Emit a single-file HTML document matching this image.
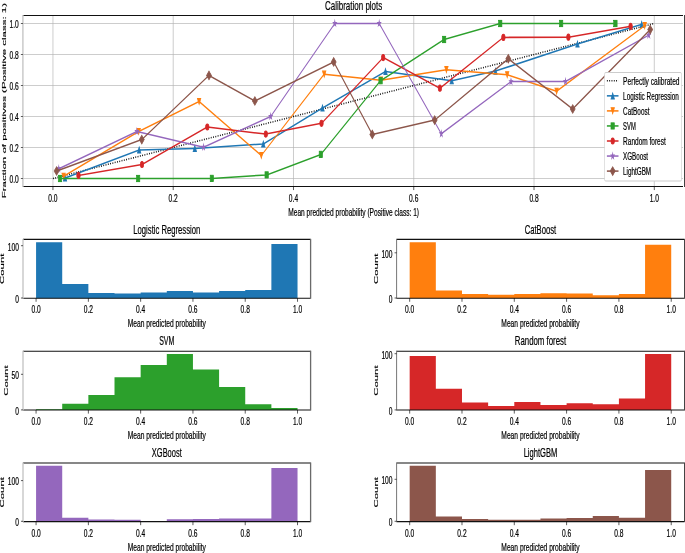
<!DOCTYPE html>
<html><head><meta charset="utf-8"><title>Calibration plots</title>
<style>
html,body{margin:0;padding:0;background:#fff;}
body{width:685px;height:553px;overflow:hidden;}
svg{display:block;filter:blur(0.35px);}
text{font-family:"Liberation Sans",sans-serif;fill:#000;stroke:#000;stroke-width:0.22px;}
</style></head>
<body>
<svg width="685" height="553" viewBox="0 0 1205.99 553" preserveAspectRatio="none">
<rect x="0" y="0" width="1205.99" height="553" fill="#fff"/>
<line x1="93.22" y1="15.5" x2="93.22" y2="186.5" stroke="#b0b0b0" stroke-width="0.82"/>
<line x1="40.32" y1="178.5" x2="1202.46" y2="178.5" stroke="#b0b0b0" stroke-width="0.82"/>
<line x1="304.96" y1="15.5" x2="304.96" y2="186.5" stroke="#b0b0b0" stroke-width="0.82"/>
<line x1="40.32" y1="147.5" x2="1202.46" y2="147.5" stroke="#b0b0b0" stroke-width="0.82"/>
<line x1="516.71" y1="15.5" x2="516.71" y2="186.5" stroke="#b0b0b0" stroke-width="0.82"/>
<line x1="40.32" y1="116.5" x2="1202.46" y2="116.5" stroke="#b0b0b0" stroke-width="0.82"/>
<line x1="728.45" y1="15.5" x2="728.45" y2="186.5" stroke="#b0b0b0" stroke-width="0.82"/>
<line x1="40.32" y1="85.5" x2="1202.46" y2="85.5" stroke="#b0b0b0" stroke-width="0.82"/>
<line x1="940.19" y1="15.5" x2="940.19" y2="186.5" stroke="#b0b0b0" stroke-width="0.82"/>
<line x1="40.32" y1="54.5" x2="1202.46" y2="54.5" stroke="#b0b0b0" stroke-width="0.82"/>
<line x1="1151.94" y1="15.5" x2="1151.94" y2="186.5" stroke="#b0b0b0" stroke-width="0.82"/>
<line x1="40.32" y1="23.5" x2="1202.46" y2="23.5" stroke="#b0b0b0" stroke-width="0.82"/>
<g>
<line x1="93.22" y1="178.5" x2="1151.94" y2="23.5" stroke="#000" stroke-width="1.54" stroke-dasharray="1.54 2.53"/>
<polyline points="114.44,178 245.07,149.9 342.96,148.4 463.56,144 567.78,107.9 678.7,71.4 795.25,80.7 872.36,71.1 1016.73,44 1129.75,24.3" fill="none" stroke="#1f77b4" stroke-width="1.54" stroke-linejoin="round" stroke-linecap="square"/>
<g fill="#1f77b4" stroke="#1f77b4" stroke-width="1.02" stroke-linejoin="miter">
<polygon points="114.44,174.93 111.36,181.07 117.51,181.07"/>
<polygon points="245.07,146.83 242,152.97 248.14,152.97"/>
<polygon points="342.96,145.33 339.89,151.47 346.03,151.47"/>
<polygon points="463.56,140.93 460.48,147.07 466.63,147.07"/>
<polygon points="567.78,104.83 564.71,110.97 570.85,110.97"/>
<polygon points="678.7,68.33 675.63,74.47 681.77,74.47"/>
<polygon points="795.25,77.63 792.17,83.77 798.32,83.77"/>
<polygon points="872.36,68.03 869.29,74.17 875.43,74.17"/>
<polygon points="1016.73,40.93 1013.65,47.07 1019.8,47.07"/>
<polygon points="1129.75,21.23 1126.68,27.37 1132.83,27.37"/>
</g>
<polyline points="111.97,176.3 244.19,131.5 350.53,101.5 460.04,155.5 570.77,74.2 670.6,80.2 785.92,69.7 892.96,74.8 979.93,91.3 1135.04,25.7" fill="none" stroke="#ff7f0e" stroke-width="1.54" stroke-linejoin="round" stroke-linecap="square"/>
<g fill="#ff7f0e" stroke="#ff7f0e" stroke-width="1.02" stroke-linejoin="miter">
<polygon points="111.97,179.37 108.9,173.23 115.04,173.23"/>
<polygon points="244.19,134.57 241.12,128.43 247.26,128.43"/>
<polygon points="350.53,104.57 347.46,98.43 353.6,98.43"/>
<polygon points="460.04,158.57 456.96,152.43 463.11,152.43"/>
<polygon points="570.77,77.27 567.7,71.13 573.85,71.13"/>
<polygon points="670.6,83.27 667.53,77.13 673.67,77.13"/>
<polygon points="785.92,72.77 782.84,66.63 788.99,66.63"/>
<polygon points="892.96,77.87 889.89,71.73 896.03,71.73"/>
<polygon points="979.93,94.37 976.86,88.23 983,88.23"/>
<polygon points="1135.04,28.77 1131.96,22.63 1138.11,22.63"/>
</g>
<polyline points="105.63,178.5 243.13,178.5 373.06,178.4 469.54,174.9 564.96,154.4 670.07,80.7 781.87,39.5 880.63,23.5 987.85,23.5 1083.45,23.5" fill="none" stroke="#2ca02c" stroke-width="1.54" stroke-linejoin="round" stroke-linecap="square"/>
<g fill="#2ca02c" stroke="#2ca02c" stroke-width="1.02" stroke-linejoin="miter">
<rect x="102.56" y="175.43" width="6.14" height="6.14"/>
<rect x="240.06" y="175.43" width="6.14" height="6.14"/>
<rect x="369.99" y="175.33" width="6.14" height="6.14"/>
<rect x="466.47" y="171.83" width="6.14" height="6.14"/>
<rect x="561.89" y="151.33" width="6.14" height="6.14"/>
<rect x="667" y="77.63" width="6.14" height="6.14"/>
<rect x="778.79" y="36.43" width="6.14" height="6.14"/>
<rect x="877.56" y="20.43" width="6.14" height="6.14"/>
<rect x="984.78" y="20.43" width="6.14" height="6.14"/>
<rect x="1080.38" y="20.43" width="6.14" height="6.14"/>
</g>
<polyline points="138.2,175.4 250,164.5 364.96,127 467.96,134.1 566.02,123.3 674.65,57.6 774.47,88.2 886.27,37.4 1000.7,37.2 1110.21,26.4" fill="none" stroke="#d62728" stroke-width="1.54" stroke-linejoin="round" stroke-linecap="square"/>
<g fill="#d62728" stroke="#d62728" stroke-width="1.02" stroke-linejoin="miter">
<circle cx="138.2" cy="175.4" r="3.07"/>
<circle cx="250" cy="164.5" r="3.07"/>
<circle cx="364.96" cy="127" r="3.07"/>
<circle cx="467.96" cy="134.1" r="3.07"/>
<circle cx="566.02" cy="123.3" r="3.07"/>
<circle cx="674.65" cy="57.6" r="3.07"/>
<circle cx="774.47" cy="88.2" r="3.07"/>
<circle cx="886.27" cy="37.4" r="3.07"/>
<circle cx="1000.7" cy="37.2" r="3.07"/>
<circle cx="1110.21" cy="26.4" r="3.07"/>
</g>
<polyline points="103.52,168.8 241.02,131.5 358.45,147.2 476.58,116.5 589.44,23.5 667.61,23.5 776.94,133.8 899.65,81.6 995.6,81.5 1142.25,35.1" fill="none" stroke="#9467bd" stroke-width="1.54" stroke-linejoin="round" stroke-linecap="square"/>
<g fill="#9467bd" stroke="#9467bd" stroke-width="1.02" stroke-linejoin="miter">
<polygon points="103.52,165.73 102.83,167.85 100.6,167.85 102.41,169.16 101.72,171.29 103.52,169.97 105.33,171.29 104.64,169.16 106.44,167.85 104.21,167.85"/>
<polygon points="241.02,128.43 240.33,130.55 238.1,130.55 239.91,131.86 239.22,133.99 241.02,132.67 242.83,133.99 242.14,131.86 243.94,130.55 241.71,130.55"/>
<polygon points="358.45,144.13 357.76,146.25 355.53,146.25 357.33,147.56 356.65,149.69 358.45,148.37 360.26,149.69 359.57,147.56 361.37,146.25 359.14,146.25"/>
<polygon points="476.58,113.43 475.89,115.55 473.66,115.55 475.47,116.86 474.78,118.99 476.58,117.67 478.39,118.99 477.7,116.86 479.51,115.55 477.27,115.55"/>
<polygon points="589.44,20.43 588.75,22.55 586.51,22.55 588.32,23.86 587.63,25.99 589.44,24.67 591.24,25.99 590.55,23.86 592.36,22.55 590.13,22.55"/>
<polygon points="667.61,20.43 666.92,22.55 664.68,22.55 666.49,23.86 665.8,25.99 667.61,24.67 669.41,25.99 668.72,23.86 670.53,22.55 668.3,22.55"/>
<polygon points="776.94,130.73 776.25,132.85 774.01,132.85 775.82,134.16 775.13,136.29 776.94,134.97 778.74,136.29 778.05,134.16 779.86,132.85 777.63,132.85"/>
<polygon points="899.65,78.53 898.96,80.65 896.73,80.65 898.53,81.96 897.84,84.09 899.65,82.77 901.45,84.09 900.76,81.96 902.57,80.65 900.34,80.65"/>
<polygon points="995.6,78.43 994.91,80.55 992.68,80.55 994.48,81.86 993.79,83.99 995.6,82.67 997.4,83.99 996.71,81.86 998.52,80.55 996.29,80.55"/>
<polygon points="1142.25,32.03 1141.56,34.15 1139.33,34.15 1141.14,35.46 1140.45,37.59 1142.25,36.27 1144.06,37.59 1143.37,35.46 1145.18,34.15 1142.94,34.15"/>
</g>
<polyline points="99.65,171 249.65,139.6 367.96,75.4 448.68,101 587.5,61.9 655.46,134.4 765.32,120.1 894.89,58.8 1008.27,109 1144.72,29.6" fill="none" stroke="#8c564b" stroke-width="1.54" stroke-linejoin="round" stroke-linecap="square"/>
<g fill="#8c564b" stroke="#8c564b" stroke-width="1.02" stroke-linejoin="miter">
<polygon points="99.65,166.66 103.99,171 99.65,175.34 95.3,171"/>
<polygon points="249.65,135.26 253.99,139.6 249.65,143.94 245.3,139.6"/>
<polygon points="367.96,71.06 372.3,75.4 367.96,79.74 363.61,75.4"/>
<polygon points="448.68,96.66 453.02,101 448.68,105.34 444.34,101"/>
<polygon points="587.5,57.56 591.84,61.9 587.5,66.24 583.16,61.9"/>
<polygon points="655.46,130.06 659.8,134.4 655.46,138.74 651.11,134.4"/>
<polygon points="765.32,115.76 769.66,120.1 765.32,124.44 760.97,120.1"/>
<polygon points="894.89,54.46 899.24,58.8 894.89,63.14 890.55,58.8"/>
<polygon points="1008.27,104.66 1012.62,109 1008.27,113.34 1003.93,109"/>
<polygon points="1144.72,25.26 1149.06,29.6 1144.72,33.94 1140.37,29.6"/>
</g>
</g>
<line x1="40.32" y1="15.5" x2="1202.46" y2="15.5" stroke="#111" stroke-width="1.15"/>
<line x1="40.32" y1="186.5" x2="1202.46" y2="186.5" stroke="#111" stroke-width="1.15"/>
<rect x="39.08" y="15" width="2.46" height="172" fill="#c6c6c6"/>
<rect x="1204.23" y="15" width="1.76" height="172" fill="#444"/>
<line x1="93.22" y1="186.5" x2="93.22" y2="190.08" stroke="#000" stroke-width="0.82"/>
<text x="93.22" y="202.2" text-anchor="middle" font-size="10.65" textLength="16.29" lengthAdjust="spacingAndGlyphs">0.0</text>
<line x1="36.73" y1="178.5" x2="40.32" y2="178.5" stroke="#000" stroke-width="0.82"/>
<text x="33.15" y="183.4" text-anchor="end" font-size="10.65" textLength="16.29" lengthAdjust="spacingAndGlyphs">0.0</text>
<line x1="304.96" y1="186.5" x2="304.96" y2="190.08" stroke="#000" stroke-width="0.82"/>
<text x="304.96" y="202.2" text-anchor="middle" font-size="10.65" textLength="16.29" lengthAdjust="spacingAndGlyphs">0.2</text>
<line x1="36.73" y1="147.5" x2="40.32" y2="147.5" stroke="#000" stroke-width="0.82"/>
<text x="33.15" y="152.4" text-anchor="end" font-size="10.65" textLength="16.29" lengthAdjust="spacingAndGlyphs">0.2</text>
<line x1="516.71" y1="186.5" x2="516.71" y2="190.08" stroke="#000" stroke-width="0.82"/>
<text x="516.71" y="202.2" text-anchor="middle" font-size="10.65" textLength="16.29" lengthAdjust="spacingAndGlyphs">0.4</text>
<line x1="36.73" y1="116.5" x2="40.32" y2="116.5" stroke="#000" stroke-width="0.82"/>
<text x="33.15" y="121.4" text-anchor="end" font-size="10.65" textLength="16.29" lengthAdjust="spacingAndGlyphs">0.4</text>
<line x1="728.45" y1="186.5" x2="728.45" y2="190.08" stroke="#000" stroke-width="0.82"/>
<text x="728.45" y="202.2" text-anchor="middle" font-size="10.65" textLength="16.29" lengthAdjust="spacingAndGlyphs">0.6</text>
<line x1="36.73" y1="85.5" x2="40.32" y2="85.5" stroke="#000" stroke-width="0.82"/>
<text x="33.15" y="90.4" text-anchor="end" font-size="10.65" textLength="16.29" lengthAdjust="spacingAndGlyphs">0.6</text>
<line x1="940.19" y1="186.5" x2="940.19" y2="190.08" stroke="#000" stroke-width="0.82"/>
<text x="940.19" y="202.2" text-anchor="middle" font-size="10.65" textLength="16.29" lengthAdjust="spacingAndGlyphs">0.8</text>
<line x1="36.73" y1="54.5" x2="40.32" y2="54.5" stroke="#000" stroke-width="0.82"/>
<text x="33.15" y="59.4" text-anchor="end" font-size="10.65" textLength="16.29" lengthAdjust="spacingAndGlyphs">0.8</text>
<line x1="1151.94" y1="186.5" x2="1151.94" y2="190.08" stroke="#000" stroke-width="0.82"/>
<text x="1151.94" y="202.2" text-anchor="middle" font-size="10.65" textLength="16.29" lengthAdjust="spacingAndGlyphs">1.0</text>
<line x1="36.73" y1="23.5" x2="40.32" y2="23.5" stroke="#000" stroke-width="0.82"/>
<text x="33.15" y="28.4" text-anchor="end" font-size="10.65" textLength="16.29" lengthAdjust="spacingAndGlyphs">1.0</text>
<text x="622.62" y="9.76" text-anchor="middle" font-size="12.78" textLength="100.72" lengthAdjust="spacingAndGlyphs">Calibration plots</text>
<text x="622.62" y="216.3" text-anchor="middle" font-size="10.65" textLength="230.24" lengthAdjust="spacingAndGlyphs">Mean predicted probability (Positive class: 1)</text>
<text transform="translate(10.39,100.6) rotate(-90)" text-anchor="middle" font-size="10.65" textLength="195.37" lengthAdjust="spacingAndGlyphs">Fraction of positives (Positive class: 1)</text>
<rect x="1064.44" y="72.5" width="135.39" height="108.5" rx="2.05" ry="2.05" fill="#fff" stroke="#cccccc" stroke-width="1.02"/>
<line x1="1068.49" y1="80.8" x2="1088.91" y2="80.8" stroke="#000" stroke-width="1.54" stroke-dasharray="1.54 2.53"/>
<text x="1097.01" y="85" text-anchor="start" font-size="10.65" textLength="99.43" lengthAdjust="spacingAndGlyphs">Perfectly calibrated</text>
<line x1="1068.49" y1="95.85" x2="1088.91" y2="95.85" stroke="#1f77b4" stroke-width="1.54"/>
<g fill="#1f77b4" stroke="#1f77b4" stroke-width="1.02"><polygon points="1078.7,92.78 1075.63,98.92 1081.77,98.92"/></g>
<text x="1097.01" y="100.05" text-anchor="start" font-size="10.65" textLength="98.23" lengthAdjust="spacingAndGlyphs">Logistic Regression</text>
<line x1="1068.49" y1="110.9" x2="1088.91" y2="110.9" stroke="#ff7f0e" stroke-width="1.54"/>
<g fill="#ff7f0e" stroke="#ff7f0e" stroke-width="1.02"><polygon points="1078.7,113.97 1075.63,107.83 1081.77,107.83"/></g>
<text x="1097.01" y="115.1" text-anchor="start" font-size="10.65" textLength="46.35" lengthAdjust="spacingAndGlyphs">CatBoost</text>
<line x1="1068.49" y1="125.95" x2="1088.91" y2="125.95" stroke="#2ca02c" stroke-width="1.54"/>
<g fill="#2ca02c" stroke="#2ca02c" stroke-width="1.02"><rect x="1075.63" y="122.88" width="6.14" height="6.14"/></g>
<text x="1097.01" y="130.15" text-anchor="start" font-size="10.65" textLength="22.34" lengthAdjust="spacingAndGlyphs">SVM</text>
<line x1="1068.49" y1="141" x2="1088.91" y2="141" stroke="#d62728" stroke-width="1.54"/>
<g fill="#d62728" stroke="#d62728" stroke-width="1.02"><circle cx="1078.7" cy="141" r="3.07"/></g>
<text x="1097.01" y="145.2" text-anchor="start" font-size="10.65" textLength="75.16" lengthAdjust="spacingAndGlyphs">Random forest</text>
<line x1="1068.49" y1="156.05" x2="1088.91" y2="156.05" stroke="#9467bd" stroke-width="1.54"/>
<g fill="#9467bd" stroke="#9467bd" stroke-width="1.02"><polygon points="1078.7,152.98 1078.01,155.1 1075.78,155.1 1077.58,156.41 1076.89,158.54 1078.7,157.22 1080.5,158.54 1079.81,156.41 1081.62,155.1 1079.39,155.1"/></g>
<text x="1097.01" y="160.25" text-anchor="start" font-size="10.65" textLength="43.86" lengthAdjust="spacingAndGlyphs">XGBoost</text>
<line x1="1068.49" y1="171.1" x2="1088.91" y2="171.1" stroke="#8c564b" stroke-width="1.54"/>
<g fill="#8c564b" stroke="#8c564b" stroke-width="1.02"><polygon points="1078.7,166.76 1083.04,171.1 1078.7,175.44 1074.35,171.1"/></g>
<text x="1097.01" y="175.3" text-anchor="start" font-size="10.65" textLength="49.35" lengthAdjust="spacingAndGlyphs">LightGBM</text>
<polygon points="63.51,298.2 63.51,242.2 109.54,242.2 109.54,284 155.57,284 155.57,293 201.6,293 201.6,293.5 247.63,293.5 247.63,292.4 293.66,292.4 293.66,291.1 339.69,291.1 339.69,292.5 385.72,292.5 385.72,291.1 431.75,291.1 431.75,290 477.78,290 477.78,244.1 523.82,244.1 523.82,298.2" fill="#1f77b4"/>
<line x1="40.49" y1="239.4" x2="546.83" y2="239.4" stroke="#111" stroke-width="1.15"/>
<line x1="40.49" y1="298.2" x2="546.83" y2="298.2" stroke="#111" stroke-width="1.15"/>
<rect x="39.26" y="238.9" width="2.46" height="59.8" fill="#c6c6c6"/>
<rect x="545.69" y="238.9" width="2.29" height="59.8" fill="#6a6a6a"/>
<line x1="63.51" y1="298.2" x2="63.51" y2="301.78" stroke="#000" stroke-width="0.82"/>
<text x="63.51" y="313.45" text-anchor="middle" font-size="10.65" textLength="16.29" lengthAdjust="spacingAndGlyphs">0.0</text>
<line x1="155.57" y1="298.2" x2="155.57" y2="301.78" stroke="#000" stroke-width="0.82"/>
<text x="155.57" y="313.45" text-anchor="middle" font-size="10.65" textLength="16.29" lengthAdjust="spacingAndGlyphs">0.2</text>
<line x1="247.63" y1="298.2" x2="247.63" y2="301.78" stroke="#000" stroke-width="0.82"/>
<text x="247.63" y="313.45" text-anchor="middle" font-size="10.65" textLength="16.29" lengthAdjust="spacingAndGlyphs">0.4</text>
<line x1="339.69" y1="298.2" x2="339.69" y2="301.78" stroke="#000" stroke-width="0.82"/>
<text x="339.69" y="313.45" text-anchor="middle" font-size="10.65" textLength="16.29" lengthAdjust="spacingAndGlyphs">0.6</text>
<line x1="431.75" y1="298.2" x2="431.75" y2="301.78" stroke="#000" stroke-width="0.82"/>
<text x="431.75" y="313.45" text-anchor="middle" font-size="10.65" textLength="16.29" lengthAdjust="spacingAndGlyphs">0.8</text>
<line x1="523.82" y1="298.2" x2="523.82" y2="301.78" stroke="#000" stroke-width="0.82"/>
<text x="523.82" y="313.45" text-anchor="middle" font-size="10.65" textLength="16.29" lengthAdjust="spacingAndGlyphs">1.0</text>
<line x1="36.91" y1="298" x2="40.49" y2="298" stroke="#000" stroke-width="0.82"/>
<text x="33.32" y="302.9" text-anchor="end" font-size="10.65" textLength="6.52" lengthAdjust="spacingAndGlyphs">0</text>
<line x1="36.91" y1="245.7" x2="40.49" y2="245.7" stroke="#000" stroke-width="0.82"/>
<text x="33.32" y="250.6" text-anchor="end" font-size="10.65" textLength="19.55" lengthAdjust="spacingAndGlyphs">100</text>
<text x="293.66" y="233.66" text-anchor="middle" font-size="12.78" textLength="117.87" lengthAdjust="spacingAndGlyphs">Logistic Regression</text>
<text x="293.66" y="327.5" text-anchor="middle" font-size="10.65" textLength="137.62" lengthAdjust="spacingAndGlyphs">Mean predicted probability</text>
<text transform="translate(7.57,268.8) rotate(-90)" text-anchor="middle" font-size="10.65" textLength="30.41" lengthAdjust="spacingAndGlyphs">Count</text>
<polygon points="721.26,298.2 721.26,242.2 767.31,242.2 767.31,290.4 813.36,290.4 813.36,294.1 859.4,294.1 859.4,294.8 905.45,294.8 905.45,294.1 951.5,294.1 951.5,293.2 997.54,293.2 997.54,293.6 1043.59,293.6 1043.59,295.2 1089.64,295.2 1089.64,294.1 1135.68,294.1 1135.68,244.7 1181.73,244.7 1181.73,298.2" fill="#ff7f0e"/>
<line x1="698.24" y1="239.4" x2="1204.75" y2="239.4" stroke="#111" stroke-width="1.15"/>
<line x1="698.24" y1="298.2" x2="1204.75" y2="298.2" stroke="#111" stroke-width="1.15"/>
<rect x="697.36" y="238.9" width="1.76" height="59.8" fill="#777"/>
<rect x="1204.23" y="238.9" width="1.76" height="59.8" fill="#444"/>
<line x1="721.26" y1="298.2" x2="721.26" y2="301.78" stroke="#000" stroke-width="0.82"/>
<text x="721.26" y="313.45" text-anchor="middle" font-size="10.65" textLength="16.29" lengthAdjust="spacingAndGlyphs">0.0</text>
<line x1="813.36" y1="298.2" x2="813.36" y2="301.78" stroke="#000" stroke-width="0.82"/>
<text x="813.36" y="313.45" text-anchor="middle" font-size="10.65" textLength="16.29" lengthAdjust="spacingAndGlyphs">0.2</text>
<line x1="905.45" y1="298.2" x2="905.45" y2="301.78" stroke="#000" stroke-width="0.82"/>
<text x="905.45" y="313.45" text-anchor="middle" font-size="10.65" textLength="16.29" lengthAdjust="spacingAndGlyphs">0.4</text>
<line x1="997.54" y1="298.2" x2="997.54" y2="301.78" stroke="#000" stroke-width="0.82"/>
<text x="997.54" y="313.45" text-anchor="middle" font-size="10.65" textLength="16.29" lengthAdjust="spacingAndGlyphs">0.6</text>
<line x1="1089.64" y1="298.2" x2="1089.64" y2="301.78" stroke="#000" stroke-width="0.82"/>
<text x="1089.64" y="313.45" text-anchor="middle" font-size="10.65" textLength="16.29" lengthAdjust="spacingAndGlyphs">0.8</text>
<line x1="1181.73" y1="298.2" x2="1181.73" y2="301.78" stroke="#000" stroke-width="0.82"/>
<text x="1181.73" y="313.45" text-anchor="middle" font-size="10.65" textLength="16.29" lengthAdjust="spacingAndGlyphs">1.0</text>
<line x1="694.66" y1="298" x2="698.24" y2="298" stroke="#000" stroke-width="0.82"/>
<text x="691.07" y="302.9" text-anchor="end" font-size="10.65" textLength="6.52" lengthAdjust="spacingAndGlyphs">0</text>
<line x1="694.66" y1="252.8" x2="698.24" y2="252.8" stroke="#000" stroke-width="0.82"/>
<text x="691.07" y="257.7" text-anchor="end" font-size="10.65" textLength="19.55" lengthAdjust="spacingAndGlyphs">100</text>
<text x="951.5" y="233.66" text-anchor="middle" font-size="12.78" textLength="55.61" lengthAdjust="spacingAndGlyphs">CatBoost</text>
<text x="951.5" y="327.5" text-anchor="middle" font-size="10.65" textLength="137.62" lengthAdjust="spacingAndGlyphs">Mean predicted probability</text>
<text transform="translate(665.32,268.8) rotate(-90)" text-anchor="middle" font-size="10.65" textLength="30.41" lengthAdjust="spacingAndGlyphs">Count</text>
<polygon points="63.51,410 63.51,409.2 109.54,409.2 109.54,403.7 155.57,403.7 155.57,395.1 201.6,395.1 201.6,377.2 247.63,377.2 247.63,365.1 293.66,365.1 293.66,354 339.69,354 339.69,369.4 385.72,369.4 385.72,387.1 431.75,387.1 431.75,404.3 477.78,404.3 477.78,407.9 523.82,407.9 523.82,410" fill="#2ca02c"/>
<line x1="40.49" y1="351.2" x2="546.83" y2="351.2" stroke="#111" stroke-width="1.15"/>
<line x1="40.49" y1="410" x2="546.83" y2="410" stroke="#111" stroke-width="1.15"/>
<rect x="39.26" y="350.7" width="2.46" height="59.8" fill="#c6c6c6"/>
<rect x="545.69" y="350.7" width="2.29" height="59.8" fill="#6a6a6a"/>
<line x1="63.51" y1="410" x2="63.51" y2="413.58" stroke="#000" stroke-width="0.82"/>
<text x="63.51" y="425.25" text-anchor="middle" font-size="10.65" textLength="16.29" lengthAdjust="spacingAndGlyphs">0.0</text>
<line x1="155.57" y1="410" x2="155.57" y2="413.58" stroke="#000" stroke-width="0.82"/>
<text x="155.57" y="425.25" text-anchor="middle" font-size="10.65" textLength="16.29" lengthAdjust="spacingAndGlyphs">0.2</text>
<line x1="247.63" y1="410" x2="247.63" y2="413.58" stroke="#000" stroke-width="0.82"/>
<text x="247.63" y="425.25" text-anchor="middle" font-size="10.65" textLength="16.29" lengthAdjust="spacingAndGlyphs">0.4</text>
<line x1="339.69" y1="410" x2="339.69" y2="413.58" stroke="#000" stroke-width="0.82"/>
<text x="339.69" y="425.25" text-anchor="middle" font-size="10.65" textLength="16.29" lengthAdjust="spacingAndGlyphs">0.6</text>
<line x1="431.75" y1="410" x2="431.75" y2="413.58" stroke="#000" stroke-width="0.82"/>
<text x="431.75" y="425.25" text-anchor="middle" font-size="10.65" textLength="16.29" lengthAdjust="spacingAndGlyphs">0.8</text>
<line x1="523.82" y1="410" x2="523.82" y2="413.58" stroke="#000" stroke-width="0.82"/>
<text x="523.82" y="425.25" text-anchor="middle" font-size="10.65" textLength="16.29" lengthAdjust="spacingAndGlyphs">1.0</text>
<line x1="36.91" y1="409.9" x2="40.49" y2="409.9" stroke="#000" stroke-width="0.82"/>
<text x="33.32" y="414.8" text-anchor="end" font-size="10.65" textLength="6.52" lengthAdjust="spacingAndGlyphs">0</text>
<line x1="36.91" y1="374.3" x2="40.49" y2="374.3" stroke="#000" stroke-width="0.82"/>
<text x="33.32" y="379.2" text-anchor="end" font-size="10.65" textLength="13.03" lengthAdjust="spacingAndGlyphs">50</text>
<text x="293.66" y="345.46" text-anchor="middle" font-size="12.78" textLength="26.81" lengthAdjust="spacingAndGlyphs">SVM</text>
<text x="293.66" y="439.3" text-anchor="middle" font-size="10.65" textLength="137.62" lengthAdjust="spacingAndGlyphs">Mean predicted probability</text>
<text transform="translate(14.09,380.6) rotate(-90)" text-anchor="middle" font-size="10.65" textLength="30.41" lengthAdjust="spacingAndGlyphs">Count</text>
<polygon points="721.26,410 721.26,355.9 767.31,355.9 767.31,388.8 813.36,388.8 813.36,402.6 859.4,402.6 859.4,406.1 905.45,406.1 905.45,402.1 951.5,402.1 951.5,405 997.54,405 997.54,403.2 1043.59,403.2 1043.59,404.3 1089.64,404.3 1089.64,398.6 1135.68,398.6 1135.68,354.1 1181.73,354.1 1181.73,410" fill="#d62728"/>
<line x1="698.24" y1="351.2" x2="1204.75" y2="351.2" stroke="#111" stroke-width="1.15"/>
<line x1="698.24" y1="410" x2="1204.75" y2="410" stroke="#111" stroke-width="1.15"/>
<rect x="697.36" y="350.7" width="1.76" height="59.8" fill="#777"/>
<rect x="1204.23" y="350.7" width="1.76" height="59.8" fill="#444"/>
<line x1="721.26" y1="410" x2="721.26" y2="413.58" stroke="#000" stroke-width="0.82"/>
<text x="721.26" y="425.25" text-anchor="middle" font-size="10.65" textLength="16.29" lengthAdjust="spacingAndGlyphs">0.0</text>
<line x1="813.36" y1="410" x2="813.36" y2="413.58" stroke="#000" stroke-width="0.82"/>
<text x="813.36" y="425.25" text-anchor="middle" font-size="10.65" textLength="16.29" lengthAdjust="spacingAndGlyphs">0.2</text>
<line x1="905.45" y1="410" x2="905.45" y2="413.58" stroke="#000" stroke-width="0.82"/>
<text x="905.45" y="425.25" text-anchor="middle" font-size="10.65" textLength="16.29" lengthAdjust="spacingAndGlyphs">0.4</text>
<line x1="997.54" y1="410" x2="997.54" y2="413.58" stroke="#000" stroke-width="0.82"/>
<text x="997.54" y="425.25" text-anchor="middle" font-size="10.65" textLength="16.29" lengthAdjust="spacingAndGlyphs">0.6</text>
<line x1="1089.64" y1="410" x2="1089.64" y2="413.58" stroke="#000" stroke-width="0.82"/>
<text x="1089.64" y="425.25" text-anchor="middle" font-size="10.65" textLength="16.29" lengthAdjust="spacingAndGlyphs">0.8</text>
<line x1="1181.73" y1="410" x2="1181.73" y2="413.58" stroke="#000" stroke-width="0.82"/>
<text x="1181.73" y="425.25" text-anchor="middle" font-size="10.65" textLength="16.29" lengthAdjust="spacingAndGlyphs">1.0</text>
<line x1="694.66" y1="409.9" x2="698.24" y2="409.9" stroke="#000" stroke-width="0.82"/>
<text x="691.07" y="414.8" text-anchor="end" font-size="10.65" textLength="6.52" lengthAdjust="spacingAndGlyphs">0</text>
<line x1="694.66" y1="353.7" x2="698.24" y2="353.7" stroke="#000" stroke-width="0.82"/>
<text x="691.07" y="358.6" text-anchor="end" font-size="10.65" textLength="19.55" lengthAdjust="spacingAndGlyphs">100</text>
<text x="951.5" y="345.46" text-anchor="middle" font-size="12.78" textLength="90.19" lengthAdjust="spacingAndGlyphs">Random forest</text>
<text x="951.5" y="439.3" text-anchor="middle" font-size="10.65" textLength="137.62" lengthAdjust="spacingAndGlyphs">Mean predicted probability</text>
<text transform="translate(665.32,380.6) rotate(-90)" text-anchor="middle" font-size="10.65" textLength="30.41" lengthAdjust="spacingAndGlyphs">Count</text>
<polygon points="63.51,521.6 63.51,465.7 109.54,465.7 109.54,517.8 155.57,517.8 155.57,519.6 201.6,519.6 201.6,519.8 247.63,519.8 247.63,521.6 293.66,521.6 293.66,519.3 339.69,519.3 339.69,519 385.72,519 385.72,518.4 431.75,518.4 431.75,518.4 477.78,518.4 477.78,468.1 523.82,468.1 523.82,521.6" fill="#9467bd"/>
<line x1="40.49" y1="463" x2="546.83" y2="463" stroke="#111" stroke-width="1.15"/>
<line x1="40.49" y1="521.6" x2="546.83" y2="521.6" stroke="#111" stroke-width="1.15"/>
<rect x="39.26" y="462.5" width="2.46" height="59.6" fill="#c6c6c6"/>
<rect x="545.69" y="462.5" width="2.29" height="59.6" fill="#6a6a6a"/>
<line x1="63.51" y1="521.6" x2="63.51" y2="525.18" stroke="#000" stroke-width="0.82"/>
<text x="63.51" y="536.85" text-anchor="middle" font-size="10.65" textLength="16.29" lengthAdjust="spacingAndGlyphs">0.0</text>
<line x1="155.57" y1="521.6" x2="155.57" y2="525.18" stroke="#000" stroke-width="0.82"/>
<text x="155.57" y="536.85" text-anchor="middle" font-size="10.65" textLength="16.29" lengthAdjust="spacingAndGlyphs">0.2</text>
<line x1="247.63" y1="521.6" x2="247.63" y2="525.18" stroke="#000" stroke-width="0.82"/>
<text x="247.63" y="536.85" text-anchor="middle" font-size="10.65" textLength="16.29" lengthAdjust="spacingAndGlyphs">0.4</text>
<line x1="339.69" y1="521.6" x2="339.69" y2="525.18" stroke="#000" stroke-width="0.82"/>
<text x="339.69" y="536.85" text-anchor="middle" font-size="10.65" textLength="16.29" lengthAdjust="spacingAndGlyphs">0.6</text>
<line x1="431.75" y1="521.6" x2="431.75" y2="525.18" stroke="#000" stroke-width="0.82"/>
<text x="431.75" y="536.85" text-anchor="middle" font-size="10.65" textLength="16.29" lengthAdjust="spacingAndGlyphs">0.8</text>
<line x1="523.82" y1="521.6" x2="523.82" y2="525.18" stroke="#000" stroke-width="0.82"/>
<text x="523.82" y="536.85" text-anchor="middle" font-size="10.65" textLength="16.29" lengthAdjust="spacingAndGlyphs">1.0</text>
<line x1="36.91" y1="521.3" x2="40.49" y2="521.3" stroke="#000" stroke-width="0.82"/>
<text x="33.32" y="526.2" text-anchor="end" font-size="10.65" textLength="6.52" lengthAdjust="spacingAndGlyphs">0</text>
<line x1="36.91" y1="480.6" x2="40.49" y2="480.6" stroke="#000" stroke-width="0.82"/>
<text x="33.32" y="485.5" text-anchor="end" font-size="10.65" textLength="19.55" lengthAdjust="spacingAndGlyphs">100</text>
<text x="293.66" y="457.26" text-anchor="middle" font-size="12.78" textLength="52.63" lengthAdjust="spacingAndGlyphs">XGBoost</text>
<text x="293.66" y="550.9" text-anchor="middle" font-size="10.65" textLength="137.62" lengthAdjust="spacingAndGlyphs">Mean predicted probability</text>
<text transform="translate(7.57,492.3) rotate(-90)" text-anchor="middle" font-size="10.65" textLength="30.41" lengthAdjust="spacingAndGlyphs">Count</text>
<polygon points="721.26,521.6 721.26,465.8 767.31,465.8 767.31,516.5 813.36,516.5 813.36,518.9 859.4,518.9 859.4,519.8 905.45,519.8 905.45,519.8 951.5,519.8 951.5,518.6 997.54,518.6 997.54,517.9 1043.59,517.9 1043.59,515.9 1089.64,515.9 1089.64,517.7 1135.68,517.7 1135.68,469.9 1181.73,469.9 1181.73,521.6" fill="#8c564b"/>
<line x1="698.24" y1="463" x2="1204.75" y2="463" stroke="#111" stroke-width="1.15"/>
<line x1="698.24" y1="521.6" x2="1204.75" y2="521.6" stroke="#111" stroke-width="1.15"/>
<rect x="697.36" y="462.5" width="1.76" height="59.6" fill="#777"/>
<rect x="1204.23" y="462.5" width="1.76" height="59.6" fill="#444"/>
<line x1="721.26" y1="521.6" x2="721.26" y2="525.18" stroke="#000" stroke-width="0.82"/>
<text x="721.26" y="536.85" text-anchor="middle" font-size="10.65" textLength="16.29" lengthAdjust="spacingAndGlyphs">0.0</text>
<line x1="813.36" y1="521.6" x2="813.36" y2="525.18" stroke="#000" stroke-width="0.82"/>
<text x="813.36" y="536.85" text-anchor="middle" font-size="10.65" textLength="16.29" lengthAdjust="spacingAndGlyphs">0.2</text>
<line x1="905.45" y1="521.6" x2="905.45" y2="525.18" stroke="#000" stroke-width="0.82"/>
<text x="905.45" y="536.85" text-anchor="middle" font-size="10.65" textLength="16.29" lengthAdjust="spacingAndGlyphs">0.4</text>
<line x1="997.54" y1="521.6" x2="997.54" y2="525.18" stroke="#000" stroke-width="0.82"/>
<text x="997.54" y="536.85" text-anchor="middle" font-size="10.65" textLength="16.29" lengthAdjust="spacingAndGlyphs">0.6</text>
<line x1="1089.64" y1="521.6" x2="1089.64" y2="525.18" stroke="#000" stroke-width="0.82"/>
<text x="1089.64" y="536.85" text-anchor="middle" font-size="10.65" textLength="16.29" lengthAdjust="spacingAndGlyphs">0.8</text>
<line x1="1181.73" y1="521.6" x2="1181.73" y2="525.18" stroke="#000" stroke-width="0.82"/>
<text x="1181.73" y="536.85" text-anchor="middle" font-size="10.65" textLength="16.29" lengthAdjust="spacingAndGlyphs">1.0</text>
<line x1="694.66" y1="521.3" x2="698.24" y2="521.3" stroke="#000" stroke-width="0.82"/>
<text x="691.07" y="526.2" text-anchor="end" font-size="10.65" textLength="6.52" lengthAdjust="spacingAndGlyphs">0</text>
<line x1="694.66" y1="479.3" x2="698.24" y2="479.3" stroke="#000" stroke-width="0.82"/>
<text x="691.07" y="484.2" text-anchor="end" font-size="10.65" textLength="19.55" lengthAdjust="spacingAndGlyphs">100</text>
<text x="951.5" y="457.26" text-anchor="middle" font-size="12.78" textLength="59.22" lengthAdjust="spacingAndGlyphs">LightGBM</text>
<text x="951.5" y="550.9" text-anchor="middle" font-size="10.65" textLength="137.62" lengthAdjust="spacingAndGlyphs">Mean predicted probability</text>
<text transform="translate(665.32,492.3) rotate(-90)" text-anchor="middle" font-size="10.65" textLength="30.41" lengthAdjust="spacingAndGlyphs">Count</text>
</svg>
</body></html>
